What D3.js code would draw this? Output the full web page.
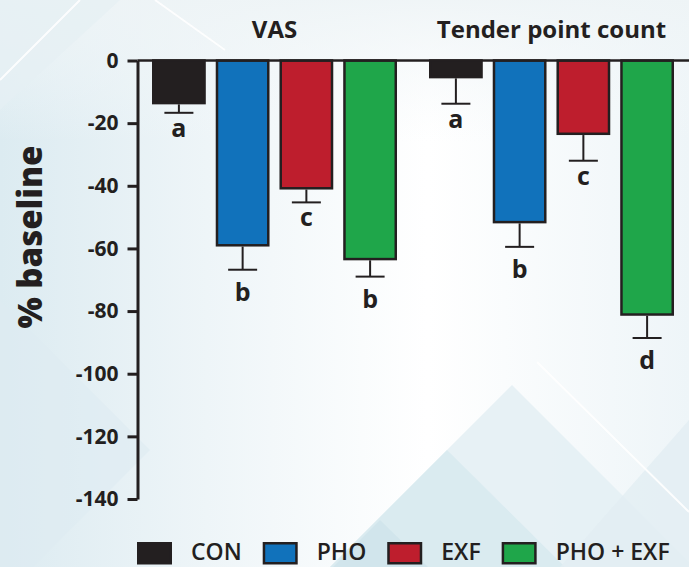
<!DOCTYPE html>
<html>
<head>
<meta charset="utf-8">
<script src="https://cdn.jsdelivr.net/npm/d3@7"></script>
<style>
  html, body { margin: 0; padding: 0; background: #ffffff; }
  svg { display: block; }
  text { font-family: "Open Sans", "Noto Sans", sans-serif; fill: #231f20; }
</style>
</head>
<body>
<svg id="chart" width="689" height="567"></svg>
<script>
// ---------------- data ----------------
const groups = ["VAS", "Tender point count"];
const series = ["CON", "PHO", "EXF", "PHO + EXF"];
const colors = ["#231f20", "#1172bb", "#be1e2d", "#1fa64a"];
const vasMeans = [-14, -59.4, -41.2, -63.8];
const vasErrors = [2.7, 7.4, 4.1, 5.2];
const vasLetters = ["a", "b", "c", "b"];
const tenderMeans = [-5.7, -52.0, -23.8, -81.5];
const tenderErrors = [8.1, 7.5, 8.2, 7.1];
const tenderLetters = ["a", "b", "c", "d"];
const yTicks = [0, -20, -40, -60, -80, -100, -120, -140];
const yLabel = "% baseline";

const W = 689, H = 567;
const ink = "#231f20";
const svg = d3.select("#chart");

// ---------------- background ----------------
const defs = svg.append("defs");
const g1 = defs.append("linearGradient").attr("id", "bg").attr("x1", 0).attr("x2", 1).attr("y1", 0).attr("y2", 0);
[[0, "#dcebf1"], [0.3, "#eef5f8"], [0.62, "#ffffff"], [1, "#eef5f8"]].forEach(([o, c]) =>
  g1.append("stop").attr("offset", o).attr("stop-color", c));
svg.append("rect").attr("width", W).attr("height", H).attr("fill", "url(#bg)");
const g2 = defs.append("linearGradient").attr("id", "bgTop").attr("x1", 0).attr("x2", 0).attr("y1", 0).attr("y2", 1);
[[0, "#eef4f6", 0.9], [0.25, "#f4f8fa", 0]].forEach(([o, c, op]) =>
  g2.append("stop").attr("offset", o).attr("stop-color", c).attr("stop-opacity", op));
svg.append("rect").attr("width", W).attr("height", H).attr("fill", "url(#bgTop)");

const bgShapes = [
  {pts: [[512, 385], [330, 567], [700, 567], [700, 573]], fill: "#e4f0f4", op: 0.9},
  {pts: [[447, 450], [330, 567], [565, 567]], fill: "#d8eaf0", op: 0.9},
  {pts: [[380, 520], [333, 567], [428, 567]], fill: "#cfe4eb", op: 0.9},
  {pts: [[0, 300], [150, 450], [0, 600]], fill: "#ddebf1", op: 0.6},
  {pts: [[689, 420], [560, 567], [689, 567]], fill: "#e2eef3", op: 0.8},
  {pts: [[0, 0], [120, 0], [0, 110]], fill: "#e6f0f4", op: 0.7}
];
svg.append("g").selectAll("polygon").data(bgShapes).join("polygon")
  .attr("points", d => d.pts.map(p => p.join(",")).join(" "))
  .attr("fill", d => d.fill).attr("opacity", d => d.op);
const bgLines = [[[537, 362], [689, 512]], [[0, 80], [80, 0]], [[155, 0], [225, 50]]];
svg.append("g").selectAll("line").data(bgLines).join("line")
  .attr("x1", d => d[0][0]).attr("y1", d => d[0][1]).attr("x2", d => d[1][0]).attr("y2", d => d[1][1])
  .attr("stroke", "#ffffff").attr("stroke-width", 2).attr("opacity", 0.9);

// ---------------- scales ----------------
const axisX = 137.5;
const y = d3.scaleLinear().domain([-140, 0]).range([499, 60.5]);
const x0 = d3.scaleBand().domain(groups).range([152, 674]).paddingInner(0.1155).paddingOuter(0);
const x1 = d3.scaleBand().domain(series).range([0, x0.bandwidth()]).paddingInner(0.156).paddingOuter(0);
const color = d3.scaleOrdinal().domain(series).range(colors);

const table = [
  {group: groups[0], means: vasMeans, errors: vasErrors, letters: vasLetters},
  {group: groups[1], means: tenderMeans, errors: tenderErrors, letters: tenderLetters}
];
const barData = [];
table.forEach(t => series.forEach((s, i) =>
  barData.push({group: t.group, s, v: t.means[i], e: t.errors[i], l: t.letters[i]})));

// ---------------- bars ----------------
const sw = 2.5;
const gBars = svg.append("g");
gBars.selectAll("rect").data(barData).join("rect")
  .attr("x", d => x0(d.group) + x1(d.s) + sw / 2)
  .attr("width", x1.bandwidth() - sw)
  .attr("y", y(0))
  .attr("height", d => y(d.v) - y(0) - sw / 2)
  .attr("fill", d => color(d.s))
  .attr("stroke", ink).attr("stroke-width", sw);

// error bars
const cx = d => x0(d.group) + x1(d.s) + x1.bandwidth() / 2;
const capW = 29;
const gErr = svg.append("g").attr("stroke", ink).attr("stroke-width", 2);
gErr.selectAll("line.v").data(barData).join("line").attr("class", "v")
  .attr("x1", cx).attr("x2", cx)
  .attr("y1", d => y(d.v)).attr("y2", d => y(d.v - d.e));
gErr.selectAll("line.c").data(barData).join("line").attr("class", "c")
  .attr("x1", d => cx(d) - capW / 2).attr("x2", d => cx(d) + capW / 2)
  .attr("y1", d => y(d.v - d.e)).attr("y2", d => y(d.v - d.e));

// significance letters
const hasAscender = l => /[bdfhklt]/.test(l);
svg.append("g").selectAll("text").data(barData).join("text")
  .attr("x", cx)
  .attr("y", d => y(d.v - d.e) + (hasAscender(d.l) ? 31 : 24))
  .attr("text-anchor", "middle")
  .style("font-size", "25px").style("font-weight", 700)
  .text(d => d.l);

// ---------------- axes ----------------
const yAxis = d3.axisLeft(y).tickValues(yTicks).tickFormat(d => String(d))
  .tickSize(10).tickSizeOuter(0).tickPadding(9);
const gY = svg.append("g").attr("transform", `translate(${axisX},0)`).call(yAxis);
gY.select(".domain").attr("stroke", ink).attr("stroke-width", 3);
gY.selectAll(".tick line").attr("stroke", ink).attr("stroke-width", 3);
gY.selectAll(".tick text").attr("fill", ink)
  .style("font-family", '"Open Sans", sans-serif').style("font-size", "21px").style("font-weight", 700);

// zero line across the plot
svg.append("line")
  .attr("x1", axisX).attr("x2", W)
  .attr("y1", y(0)).attr("y2", y(0))
  .attr("stroke", ink).attr("stroke-width", 2.5);

// group titles
svg.append("g").selectAll("text").data(groups).join("text")
  .attr("x", d => x0(d) + x0.bandwidth() / 2)
  .attr("y", 37.5)
  .attr("text-anchor", "middle")
  .style("font-size", "24px").style("font-weight", 700)
  .text(d => d);

// y label
svg.append("text")
  .attr("transform", "translate(41.5,237) rotate(-90)")
  .attr("text-anchor", "middle")
  .style("font-size", "33px").style("font-weight", 800)
  .text(yLabel);

// ---------------- legend ----------------
const gLeg = svg.append("g");
let lx = 137;
series.forEach((s, i) => {
  gLeg.append("rect").attr("x", lx + 1.25).attr("y", 543.25).attr("width", 35 - 2.5).attr("height", 20)
    .attr("fill", colors[i]).attr("stroke", ink).attr("stroke-width", 2.5);
  const t = gLeg.append("text").attr("x", lx + 35 + 19).attr("y", 560)
    .style("font-size", "23px").style("font-weight", 600).text(s);
  lx += 35 + 19 + t.node().getComputedTextLength() + 21;
});
</script>
</body>
</html>
